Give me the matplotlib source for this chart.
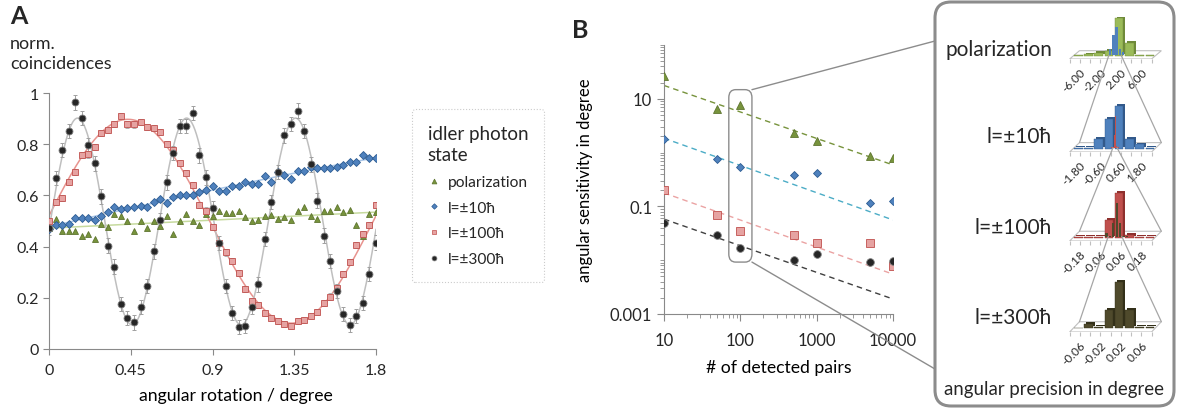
import numpy as np
import matplotlib
matplotlib.use("Agg")
import matplotlib.pyplot as plt
from matplotlib.lines import Line2D
from matplotlib.patches import FancyBboxPatch, ConnectionPatch
from matplotlib.ticker import FixedLocator, LogLocator, NullFormatter, FuncFormatter

plt.rcParams["font.family"] = ["Lato", "DejaVu Sans"]
plt.rcParams["text.color"] = "#262626"

# ---------------- panel A data (normalised coincidences) ----------------
angle = np.linspace(0, 1.8, 51)

pol = [0.472, 0.509, 0.461, 0.461, 0.461, 0.443, 0.449, 0.43, 0.487, 0.478,
       0.527, 0.518, 0.5, 0.461, 0.5, 0.471, 0.5, 0.48, 0.521, 0.449,
       0.5, 0.527, 0.5, 0.483, 0.527, 0.518, 0.54, 0.531, 0.531, 0.538,
       0.516, 0.5, 0.503, 0.518, 0.525, 0.506, 0.516, 0.503, 0.538, 0.553,
       0.518, 0.506, 0.538, 0.538, 0.556, 0.534, 0.544, 0.483, 0.443, 0.527,
       0.535]
l10 = [0.467, 0.486, 0.486, 0.49, 0.512, 0.512, 0.51, 0.503, 0.521, 0.535,
       0.553, 0.548, 0.55, 0.554, 0.559, 0.553, 0.574, 0.587, 0.57, 0.595,
       0.6, 0.6, 0.602, 0.613, 0.622, 0.636, 0.617, 0.617, 0.635, 0.635,
       0.654, 0.645, 0.645, 0.677, 0.654, 0.69, 0.681, 0.665, 0.696, 0.696,
       0.709, 0.707, 0.707, 0.707, 0.709, 0.717, 0.729, 0.729, 0.756, 0.748,
       0.748]
l100 = [0.499, 0.574, 0.589, 0.654, 0.692, 0.759, 0.76, 0.789, 0.845, 0.854,
        0.88, 0.91, 0.877, 0.877, 0.887, 0.867, 0.864, 0.847, 0.8, 0.777,
        0.725, 0.686, 0.639, 0.563, 0.541, 0.478, 0.413, 0.377, 0.345, 0.297,
        0.235, 0.189, 0.172, 0.141, 0.12, 0.108, 0.098, 0.09, 0.108, 0.113,
        0.128, 0.146, 0.179, 0.205, 0.24, 0.293, 0.339, 0.407, 0.449, 0.484,
        0.563]
l300 = [0.472, 0.669, 0.778, 0.851, 0.963, 0.903, 0.795, 0.725, 0.596, 0.404,
        0.322, 0.175, 0.12, 0.104, 0.163, 0.245, 0.381, 0.505, 0.651, 0.765,
        0.871, 0.871, 0.922, 0.756, 0.67, 0.55, 0.415, 0.245, 0.141, 0.086,
        0.089, 0.163, 0.252, 0.429, 0.574, 0.691, 0.834, 0.88, 0.931, 0.851,
        0.721, 0.58, 0.443, 0.344, 0.226, 0.137, 0.095, 0.128, 0.18, 0.293,
        0.416]
err100 = 0.012
err300 = 0.028

series_names = ["polarization", "l=±10ħ", "l=±100ħ", "l=±300ħ"]
# fringe period (degree) of the cos^2 fit, None -> straight line
fit_period = [None, 18.0, 1.8, 0.6]

# ---------------- panel B data (sensitivity vs. detected pairs) ----------------
pairs = [10, 50, 100, 500, 1000, 5000, 10000]
sens_pol = [26.5, 6.5, 7.7, 2.36, 1.65, 0.855, 0.78]
sens_l10 = [1.8, 0.76, 0.55, 0.39, 0.41, 0.117, 0.125]
sens_l100 = [0.205, 0.070, 0.0344, 0.0289, 0.0205, 0.0205, 0.0078]
sens_l300 = [0.049, 0.030, 0.017, 0.0102, 0.013, 0.0093, 0.0098]
# dashed trend lines: value at 10 and at 10000 pairs
trend_start = [17.7, 1.85, 0.178, 0.058]
trend_end = [0.59, 0.056, 0.0055, 0.0019]

# ---------------- panel C data (histograms at 100 pairs) ----------------
bin_width = [2.0, 0.6, 0.06, 0.02]
hist_pol = [0.02, 0.05, 0.09, 0.14, 1.0, 0.35, 0.02, 0.02]
hist_l10 = [0.02, 0.02, 0.22, 0.7, 1.0, 0.22, 0.1, 0.02]
hist_l100 = [0.02, 0.02, 0.02, 0.4, 1.0, 0.06, 0.02, 0.02]
hist_l300 = [0.0, 0.1, 0.02, 0.4, 1.0, 0.4, 0.02, 0.02]

mk = ["^", "D", "s", "o"]
face = ["#77933C", "#4F81BD", "#E6A3A2", "#262626"]
edge = ["#5E7530", "#2C5C92", "#C0504D", "#7F7F7F"]
msize = [5.0, 4.0, 5.0, 5.0]
fitcol = ["#C6DA9E", "#A9C6E8", "#E8948F", "#BFBFBF"]
trendcol = ["#77933C", "#4BACC6", "#EBA3A3", "#404040"]
barfront = ["#9BBB59", "#4F81BD", "#C0504D", "#4F4A2C"]
barside = ["#6F8A3A", "#32598A", "#8E302D", "#333019"]

W, H = 1177, 410
fig = plt.figure(figsize=(W / 100, H / 100), dpi=100)


def frame(l, t, r, b):
    return [l / W, 1 - b / H, (r - l) / W, (b - t) / H]


# ================= A =================
axA = fig.add_axes(frame(49, 94, 376, 350))
ys = [pol, l10, l100, l300]
for k in range(4):
    y = np.array(ys[k])
    if fit_period[k] is None:
        c = np.polyfit(angle, y, 1)
        xs = np.linspace(0, 1.8, 300)
        yf = np.polyval(c, xs)
    else:
        w = 2 * np.pi / fit_period[k]
        A = np.column_stack([np.ones_like(angle), np.cos(w * angle), np.sin(w * angle)])
        c = np.linalg.lstsq(A, y, rcond=None)[0]
        xs = np.linspace(0, 1.8, 400)
        yf = c[0] + c[1] * np.cos(w * xs) + c[2] * np.sin(w * xs)
    axA.plot(xs, yf, color=fitcol[k], lw=1.1, zorder=1)

axA.errorbar(angle, l100, yerr=err100, fmt="none", ecolor="#B0B0B0",
             elinewidth=0.7, capsize=1.5, capthick=0.7, zorder=2)
axA.errorbar(angle, l300, yerr=err300, fmt="none", ecolor="#A0A0A0",
             elinewidth=0.7, capsize=1.5, capthick=0.7, zorder=2)
for k in range(4):
    axA.plot(angle, ys[k], ls="none", marker=mk[k], ms=msize[k],
             mfc=face[k], mec=edge[k], mew=0.6, zorder=3 + k)

axA.set_xlim(0, 1.8)
axA.set_ylim(0, 1)
axA.set_xticks([0, 0.45, 0.9, 1.35, 1.8])
axA.set_yticks([0, 0.2, 0.4, 0.6, 0.8, 1.0])
axA.xaxis.set_major_formatter(FuncFormatter(lambda v, p: f"{v:g}"))
axA.yaxis.set_major_formatter(FuncFormatter(lambda v, p: f"{v:g}"))
for s in ["top", "right"]:
    axA.spines[s].set_visible(False)
for s in ["left", "bottom"]:
    axA.spines[s].set_color("#898989")
axA.tick_params(length=4, color="#898989", labelsize=11.5, labelcolor="#262626")
axA.tick_params(axis="x", pad=6)
axA.set_xlabel("angular rotation / degree", fontsize=12.7, labelpad=7, x=0.57)

fig.text(10 / W, 1 - 17 / H, "A", fontsize=18, fontweight="bold", va="center")
fig.text(10 / W, 1 - 54 / H, "norm.\ncoincidences", fontsize=13, va="center",
         linespacing=1.3)

handles = [Line2D([], [], ls="none", marker=mk[k], ms=msize[k] * 0.7, mfc=face[k],
                  mec=edge[k], mew=0.5) for k in range(4)]
leg = fig.legend(handles, series_names, loc="upper left",
                 bbox_to_anchor=(412 / W, 1 - 110 / H), title="idler photon\nstate",
                 title_fontsize=13.5, fontsize=11.2, alignment="left", frameon=True,
                 fancybox=True, handlelength=0.8, handletextpad=0.5,
                 labelspacing=0.75, borderpad=1.0, borderaxespad=0)
leg.get_frame().set_edgecolor("#BFBFBF")
leg.get_frame().set_linestyle(":")
leg.get_frame().set_linewidth(0.8)
leg.get_title().set_linespacing(1.35)

# ================= B =================
axB = fig.add_axes(frame(664, 46, 893, 315))
sens = [sens_pol, sens_l10, sens_l100, sens_l300]
for k in range(4):
    axB.plot([pairs[0], pairs[-1]], [trend_start[k], trend_end[k]], ls=(0, (4, 3)),
             color=trendcol[k], lw=1.0, zorder=1)
    axB.plot(pairs, sens[k], ls="none", marker=mk[k], ms=msize[k] + 0.5,
             mfc=face[k], mec=edge[k], mew=0.6, zorder=3)
axB.set_xscale("log")
axB.set_yscale("log")
axB.set_xlim(10, 10000)
axB.set_ylim(0.001, 100)
axB.yaxis.set_major_locator(FixedLocator([0.001, 0.1, 10]))
axB.yaxis.set_minor_locator(LogLocator(base=10, subs=np.arange(1, 10)))
axB.yaxis.set_minor_formatter(NullFormatter())
axB.xaxis.set_major_locator(FixedLocator([10, 100, 1000, 10000]))
axB.xaxis.set_minor_locator(LogLocator(base=10, subs=np.arange(2, 10)))
axB.xaxis.set_minor_formatter(NullFormatter())
axB.xaxis.set_major_formatter(FuncFormatter(lambda v, p: f"{v:g}"))
axB.yaxis.set_major_formatter(FuncFormatter(lambda v, p: f"{v:g}"))
for s in ["top", "right"]:
    axB.spines[s].set_visible(False)
for s in ["left", "bottom"]:
    axB.spines[s].set_color("#898989")
axB.tick_params(which="major", length=5, color="#898989", labelsize=12,
                labelcolor="#262626")
axB.tick_params(which="minor", length=3, color="#898989")
axB.tick_params(axis="x", pad=8)
axB.set_xlabel("# of detected pairs", fontsize=12.7, labelpad=8)
axB.set_ylabel("angular sensitivity in degree", fontsize=12, labelpad=12)
fig.text(572 / W, 1 - 30 / H, "B", fontsize=18, fontweight="bold", va="center")

# zoom box around 100 pairs
zb = FancyBboxPatch((0.283, 0.193), 0.101, 0.641, boxstyle="round,pad=0,rounding_size=0.03",
                    transform=axB.transAxes, fc="none", ec="#8C8C8C", lw=1.0, zorder=5)
axB.add_patch(zb)

# ================= C =================
over = fig.add_axes([0, 0, 1, 1], zorder=-1)
over.set_xlim(0, W)
over.set_ylim(H, 0)
over.axis("off")
box = FancyBboxPatch((935, 3), 239, 404, boxstyle="round,pad=0,rounding_size=16",
                     fc="white", ec="#8C8C8C", lw=2.2)
over.add_patch(box)

for xyA in [(0.384, 0.834), (0.384, 0.193)]:
    yB = 42 if xyA[1] > 0.5 else 370
    con = ConnectionPatch(xyA=xyA, coordsA=axB.transAxes, xyB=(935, yB),
                          coordsB=over.transData, color="#8C8C8C", lw=1.0)
    fig.add_artist(con)

hists = [hist_pol, hist_l10, hist_l100, hist_l300]
hframes = [(14, 60), (101, 153), (188, 242), (276, 333)]
label_y = [50, 137, 228, 318]
hax = []
for k in range(4):
    t, b = hframes[k]
    ax = fig.add_axes(frame(1068, t, 1163, b))
    ax.patch.set_alpha(0)
    n = len(hists[k])
    wd = bin_width[k]
    lo, hi = -n / 2 * wd, n / 2 * wd
    sx = 0.12 * (hi - lo)
    fd = 0.22
    ax.set_xlim(lo - 0.02 * (hi - lo), hi + sx + 0.02 * (hi - lo))
    ax.set_ylim(0, 1.22)
    ax.fill([lo, hi, hi + sx, lo + sx], [0, 0, fd, fd], fc="white", ec="#BFBFBF", lw=0.8,
            zorder=1)
    centers = (np.arange(n) - (n - 1) / 2) * wd
    h = np.array(hists[k])
    ax.bar(centers + sx * 0.55, h, width=wd * 0.85, bottom=fd * 0.55,
           color=barside[k], lw=0, zorder=2)
    ax.bar(centers + sx * 0.35, h, width=wd * 0.85, bottom=fd * 0.35,
           color=barfront[k], ec=barside[k], lw=0.3, zorder=3)
    if k < 3:
        nh = np.array(hists[k + 1])
        nw = bin_width[k + 1]
        nc = (np.arange(len(nh)) - (len(nh) - 1) / 2) * nw
        ax.bar(nc + sx * 0.45, nh * 0.75, width=nw * 0.7, bottom=fd * 0.45,
               color=barfront[k + 1], lw=0, zorder=4)
    edges = lo + np.arange(n + 1) * wd
    ax.set_xticks(edges)
    labs = []
    for j, e in enumerate(edges):
        labs.append(f"{e:.2f}" if j in (1, 3, 5, 7) else "")
    ax.set_xticklabels(labs, rotation=45, ha="right", rotation_mode="anchor", fontsize=8.5)
    ax.set_yticks([])
    for s in ax.spines.values():
        s.set_visible(False)
    ax.tick_params(axis="x", length=3, color="#BFBFBF", pad=2, labelcolor="#262626")
    hax.append((ax, lo, hi, sx, fd))
    over.text(1052, label_y[k], series_names[k], ha="right", va="center", fontsize=15)

for k in range(3):
    ax, lo, hi, sx, fd = hax[k]
    ax2, lo2, hi2, sx2, fd2 = hax[k + 1]
    for xa, xb in [(lo2 * 0.5 + sx * 0.45, lo2 + sx2), (hi2 * 0.5 + sx * 0.45, hi2 + sx2)]:
        con = ConnectionPatch(xyA=(xa, fd * 0.45), coordsA=ax.transData, xyB=(xb, fd2),
                              coordsB=ax2.transData, color="#A6A6A6", lw=0.9, zorder=6)
        fig.add_artist(con)

over.text(1054, 390, "angular precision in degree", ha="center", va="center",
          fontsize=13.4)

fig.savefig("out.png", dpi=100)
